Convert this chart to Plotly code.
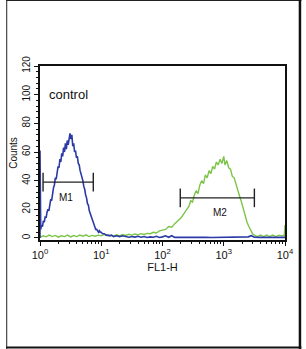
import math
import plotly.graph_objects as go

# ---- data (log10 of FL1-H channel, counts) ----
control_lg = [0.000, 0.000, 0.012, 0.025, 0.04, 0.055, 0.07, 0.085, 0.10, 0.115, 0.13, 0.145,
              0.16, 0.175, 0.19, 0.205, 0.22, 0.235, 0.25, 0.265, 0.28, 0.295, 0.31, 0.325,
              0.34, 0.355, 0.37, 0.385, 0.40, 0.415, 0.43, 0.445, 0.46, 0.475, 0.49, 0.505,
              0.52, 0.535, 0.55, 0.565, 0.58, 0.595, 0.61, 0.625, 0.64, 0.655, 0.67, 0.685,
              0.70, 0.715, 0.73, 0.745, 0.76, 0.775, 0.79, 0.805, 0.82, 0.835, 0.85, 0.865,
              0.88, 0.895, 0.91, 0.925, 0.94, 0.955, 0.97, 0.985, 1.00, 1.02, 1.05, 1.08,
              1.11, 1.14, 1.17, 1.20, 1.25, 1.30, 1.35, 1.40, 1.45, 1.50, 1.55, 1.60, 1.65,
              1.70, 1.75, 1.80, 1.85, 1.90, 1.95, 2.00, 2.05, 2.10, 2.15, 2.20, 2.30, 2.40,
              2.50, 2.60, 2.70, 2.80, 2.90, 3.00, 3.10, 3.20, 3.30, 3.40, 3.45, 3.50, 3.60,
              3.70, 3.80, 3.90, 4.00]
control_counts = [0, 61, 6, 9, 8, 12, 11, 15, 14, 18, 20, 19,
                  25, 27, 26, 32, 35, 37, 42, 41, 47, 50, 49, 55,
                  53, 59, 57, 63, 60, 66, 62, 68, 65, 71, 73, 69,
                  72, 64, 66, 60, 61, 56, 57, 52, 51, 47, 45, 42,
                  40, 36, 34, 30, 28, 24, 23, 19, 17, 15, 13, 11,
                  9, 8, 6, 6, 5, 4, 5, 4, 4, 3, 3, 2,
                  2, 1.5, 2, 1, 1.5, 1, 1.5, 1, 0.5, 1, 0.6, 1.2, 0.5,
                  1, 0.4, 0.8, 0.5, 1.2, 0.4, 0.8, 1.5, 0.5, 1.6, 0.4, 0.5, 0.3,
                  0.4, 0.3, 0.5, 0.3, 0.4, 0.3, 0.5, 0.3, 0.4, 0.8, 1.6, 0.5, 0.4,
                  0.3, 0.4, 0.3, 0.4]

sample_lg = [0.00, 0.05, 0.10, 0.15, 0.20, 0.25, 0.30, 0.35, 0.40, 0.45, 0.50, 0.55,
             0.60, 0.65, 0.70, 0.75, 0.80, 0.85, 0.90, 0.95, 1.00, 1.05, 1.10, 1.15,
             1.20, 1.25, 1.30, 1.35, 1.40, 1.45, 1.50, 1.55, 1.60, 1.65, 1.70, 1.75,
             1.80, 1.85, 1.90, 1.95, 2.00, 2.05, 2.10, 2.15, 2.20, 2.25, 2.30, 2.35,
             2.40, 2.43, 2.46, 2.49, 2.52, 2.55, 2.58, 2.61, 2.64, 2.67, 2.70, 2.73,
             2.76, 2.79, 2.82, 2.85, 2.88, 2.91, 2.94, 2.97, 3.00, 3.02, 3.05, 3.08,
             3.11, 3.14, 3.17, 3.20, 3.23, 3.26, 3.29, 3.32, 3.35, 3.38, 3.41, 3.44,
             3.47, 3.50, 3.55, 3.60, 3.65, 3.70, 3.75, 3.80, 3.85, 3.90, 3.95, 3.99,
             4.00, 4.00]
sample_counts = [0.5, 1.5, 0.8, 2, 1, 1.8, 0.6, 1.5, 1, 2, 0.8, 1.7,
                 1, 2, 1.2, 2.2, 1, 1.8, 1.2, 2, 1.5, 2.5, 1.5, 2,
                 1.3, 2.2, 1.5, 2.5, 1.8, 2.6, 2, 2.8, 2.2, 3, 2.5, 3.2,
                 3, 4, 3.5, 5, 5.5, 6, 8, 7.5, 10, 12, 14, 17,
                 20, 22, 26, 25, 30, 33, 31, 37, 40, 38, 44, 42,
                 47, 45, 50, 48, 53, 51, 55, 52, 57, 51, 54, 49,
                 48, 43, 42, 37, 34, 29, 25, 20, 15, 11, 8, 5,
                 3, 2, 1, 2, 1, 2, 1, 2, 1, 2, 1.5, 2,
                 9, 0]

# marker gates: (label, start lg, end lg, level)
gate_names = ["M1", "M2"]
gate_start = [0.05, 2.29]
gate_end = [0.87, 3.50]
gate_level = [39, 28]

x_tick_vals = [0, 1, 2, 3, 4]
x_tick_text = ["10<sup>0</sup>", "10<sup>1</sup>", "10<sup>2</sup>", "10<sup>3</sup>", "10<sup>4</sup>"]
y_tick_vals = [0, 20, 40, 60, 80, 100, 120]

BLUE = "#2b3aa6"
GREEN = "#7cc447"

fig = go.Figure()
fig.add_trace(go.Scatter(x=sample_lg, y=sample_counts, mode="lines",
                         line=dict(color=GREEN, width=1.4), hoverinfo="skip"))
fig.add_trace(go.Scatter(x=control_lg, y=control_counts, mode="lines",
                         line=dict(color=BLUE, width=1.6), hoverinfo="skip"))

cap = 6.5
for name, a, b, lvl in zip(gate_names, gate_start, gate_end, gate_level):
    fig.add_trace(go.Scatter(x=[a, b], y=[lvl, lvl], mode="lines",
                             line=dict(color="#222222", width=1.4), hoverinfo="skip"))
    for xx in (a, b):
        fig.add_trace(go.Scatter(x=[xx, xx], y=[lvl - cap, lvl + cap], mode="lines",
                                 line=dict(color="#222222", width=1.4), hoverinfo="skip"))
    fig.add_annotation(x=(a + b) / 2 + (-0.04 if name == "M1" else 0.05), y=lvl - 10.5,
                       text=name, showarrow=False,
                       font=dict(size=10, color="#111111", family="Liberation Sans Narrow, Liberation Sans"))

fig.add_annotation(x=0.12, y=100, text="control", showarrow=False, xanchor="left",
                   font=dict(size=13, color="#111111", family="Liberation Sans Narrow, Liberation Sans"))

minor_x = [d + math.log10(k) for d in range(4) for k in range(2, 10)]

fig.update_layout(
    width=306, height=349,
    margin=dict(l=35, r=17, t=66, b=109),
    paper_bgcolor="white", plot_bgcolor="white",
    showlegend=False,
    font=dict(family="Liberation Sans", color="#111111"),
    xaxis=dict(range=[0, 4], tickmode="array", tickvals=x_tick_vals, ticktext=x_tick_text,
               showgrid=False, zeroline=False, showline=True, linecolor="#111111",
               linewidth=1.5, mirror=True, ticks="outside", ticklen=4, tickwidth=1,
               tickcolor="#111111", tickfont=dict(size=11),
               minor=dict(tickmode="array", tickvals=minor_x, ticks="outside",
                          ticklen=2.5, tickcolor="#111111", showgrid=False),
               title=dict(text="FL1-H", font=dict(size=11, family="Liberation Sans Narrow, Liberation Sans"), standoff=2)),
    yaxis=dict(range=[-1.4, 120], tickmode="array", tickvals=y_tick_vals,
               showgrid=False, zeroline=False, showline=True, linecolor="#111111",
               linewidth=1.5, mirror=True, ticks="outside", ticklen=4, tickwidth=1,
               tickcolor="#111111", tickangle=-90, tickfont=dict(size=10),
               minor=dict(dtick=4, tick0=0, ticks="outside", ticklen=2,
                          tickcolor="#111111", showgrid=False),
               title=dict(text="Counts", font=dict(size=10, family="Liberation Sans Narrow, Liberation Sans"), standoff=2)),
)

# outer frame of the image
def px_to_paper_x(px):
    return (px - 35) / (306 - 35 - 17)

def px_to_paper_y(py):
    return (349 - 109 - py) / (349 - 66 - 109)

fig.add_shape(type="line", xref="paper", yref="paper",
              x0=px_to_paper_x(0.5), x1=px_to_paper_x(0.5),
              y0=px_to_paper_y(0), y1=px_to_paper_y(349), line=dict(color="#222222", width=1))
fig.add_shape(type="line", xref="paper", yref="paper",
              x0=px_to_paper_x(0), x1=px_to_paper_x(306),
              y0=px_to_paper_y(0.5), y1=px_to_paper_y(0.5), line=dict(color="#222222", width=1))
fig.add_shape(type="line", xref="paper", yref="paper",
              x0=px_to_paper_x(304.5), x1=px_to_paper_x(304.5),
              y0=px_to_paper_y(0), y1=px_to_paper_y(349), line=dict(color="#111111", width=2.5))
fig.add_shape(type="line", xref="paper", yref="paper",
              x0=px_to_paper_x(0), x1=px_to_paper_x(306),
              y0=px_to_paper_y(347.5), y1=px_to_paper_y(347.5), line=dict(color="#111111", width=2))

fig.write_html("out.html")
